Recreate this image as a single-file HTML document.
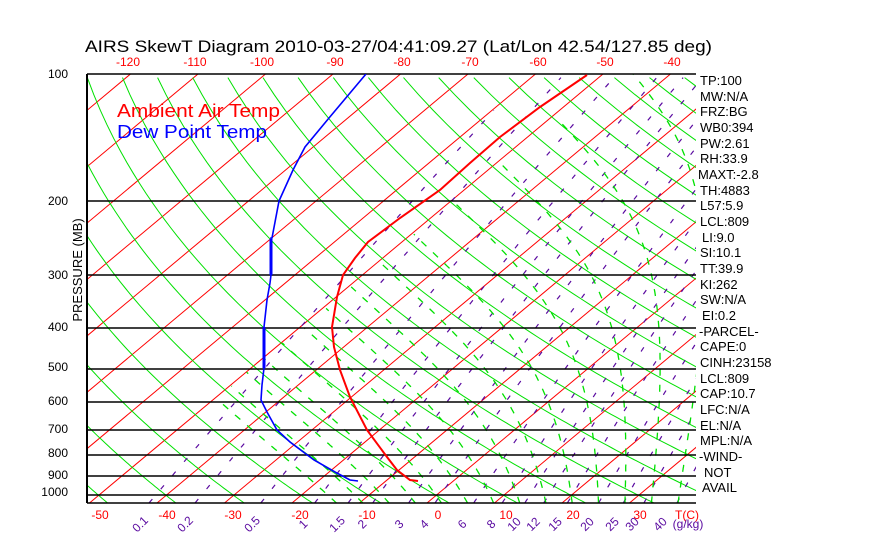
<!DOCTYPE html>
<html><head><meta charset="utf-8"><style>
html,body{margin:0;padding:0;background:#fff;}
svg{display:block;font-family:"Liberation Sans",sans-serif;}
</style></head><body>
<svg id="s" width="870" height="560" viewBox="0 0 870 560" xmlns="http://www.w3.org/2000/svg">
<defs><clipPath id="c"><rect x="87" y="74" width="609" height="429"/></clipPath></defs>
<rect width="870" height="560" fill="#fff"/>
<g id="grid" clip-path="url(#c)"></g>
<g id="hl" stroke="#000" stroke-width="1.5"></g>
<line x1="87" y1="74" x2="87" y2="503" stroke="#000" stroke-width="2"/>
<g id="prof" clip-path="url(#c)">
<polyline fill="none" stroke="#ff0000" stroke-width="2" points="587,75 540,107 500,137 470,163 440,190 400,218 368,242 355,258 343,275 337,297 332,327 334,347 340,370 350,397 367,430 387,457 397,470 410,480 418,481"/>
<polyline fill="none" stroke="#0000ff" stroke-width="1.6" points="366,74 329,118 305,147 293,170 279,201 272,238 271,238 271,275 270,283 267,300 264,327 264,368 262,385 261,400 267,412 277,430 290,442 314,460 335,472 350,480 358,481"/>
<line x1="271" y1="239" x2="271" y2="275" stroke="#0000ff" stroke-width="3"/>
<line x1="264" y1="327" x2="264" y2="368" stroke="#0000ff" stroke-width="3"/>
</g>
<text x="85" y="52" font-size="17" fill="#000" textLength="627" lengthAdjust="spacingAndGlyphs">AIRS SkewT Diagram 2010-03-27/04:41:09.27 (Lat/Lon 42.54/127.85 deg)</text>
<g fill="#ff0000" font-size="12" text-anchor="middle">
<text x="128" y="66">-120</text><text x="195" y="66">-110</text><text x="262" y="66">-100</text><text x="335" y="66">-90</text><text x="402" y="66">-80</text><text x="470" y="66">-70</text><text x="538" y="66">-60</text><text x="605" y="66">-50</text><text x="672" y="66">-40</text>
<text x="100" y="519">-50</text><text x="167" y="519">-40</text><text x="233" y="519">-30</text><text x="300" y="519">-20</text><text x="367" y="519">-10</text><text x="438" y="519">0</text><text x="506" y="519">10</text><text x="573" y="519">20</text><text x="640" y="519">30</text><text x="687" y="519">T(C)</text>
</g>
<text x="117" y="117" font-size="18" fill="#ff0000" textLength="163" lengthAdjust="spacingAndGlyphs">Ambient Air Temp</text>
<text x="117" y="138" font-size="18" fill="#0000ff" textLength="150" lengthAdjust="spacingAndGlyphs">Dew Point Temp</text>
<g font-size="12" fill="#000" text-anchor="end">
<text x="68" y="78">100</text><text x="68" y="205">200</text><text x="68" y="279">300</text><text x="68" y="331">400</text><text x="68" y="371">500</text><text x="68" y="405">600</text><text x="68" y="433">700</text><text x="68" y="457">800</text><text x="68" y="479">900</text><text x="68" y="496">1000</text>
</g>
<text transform="translate(82,270) rotate(-90)" font-size="13" text-anchor="middle" fill="#000">PRESSURE (MB)</text>
<g fill="#5a0aa0" font-size="12" text-anchor="middle">
<text transform="translate(143,527) rotate(-45)">0.1</text>
<text transform="translate(188,527) rotate(-45)">0.2</text>
<text transform="translate(255,527) rotate(-45)">0.5</text>
<text transform="translate(306,527) rotate(-45)">1</text>
<text transform="translate(340,527) rotate(-45)">1.5</text>
<text transform="translate(365,527) rotate(-45)">2</text>
<text transform="translate(402,527) rotate(-45)">3</text>
<text transform="translate(427,527) rotate(-45)">4</text>
<text transform="translate(465,527) rotate(-45)">6</text>
<text transform="translate(494,527) rotate(-45)">8</text>
<text transform="translate(517,527) rotate(-45)">10</text>
<text transform="translate(536,527) rotate(-45)">12</text>
<text transform="translate(558,527) rotate(-45)">15</text>
<text transform="translate(590,527) rotate(-45)">20</text>
<text transform="translate(615,527) rotate(-45)">25</text>
<text transform="translate(635,527) rotate(-45)">30</text>
<text transform="translate(663,527) rotate(-45)">40</text>
<text x="688" y="528">(g/kg)</text>
</g>
<g font-size="13" fill="#000">
<text x="700" y="85">TP:100</text><text x="700" y="101">MW:N/A</text><text x="700" y="116">FRZ:BG</text><text x="700" y="132">WB0:394</text><text x="700" y="148">PW:2.61</text><text x="700" y="163">RH:33.9</text><text x="698" y="179">MAXT:-2.8</text><text x="700" y="195">TH:4883</text><text x="700" y="210">L57:5.9</text><text x="700" y="226">LCL:809</text><text x="702" y="242">LI:9.0</text><text x="700" y="257">SI:10.1</text><text x="700" y="273">TT:39.9</text><text x="700" y="289">KI:262</text><text x="700" y="304">SW:N/A</text><text x="702" y="320">EI:0.2</text><text x="699" y="336">-PARCEL-</text><text x="700" y="351">CAPE:0</text><text x="700" y="367">CINH:23158</text><text x="700" y="383">LCL:809</text><text x="700" y="398">CAP:10.7</text><text x="700" y="414">LFC:N/A</text><text x="700" y="430">EL:N/A</text><text x="700" y="445">MPL:N/A</text><text x="699" y="461">-WIND-</text><text x="704" y="477">NOT</text><text x="702" y="492">AVAIL</text>
</g>
</svg>
<script>
(function(){
var NS="http://www.w3.org/2000/svg";
var g=document.getElementById("grid"),hl=document.getElementById("hl");
function Y(p){return 74+183*Math.log(p/100);}
function X(T,y){return 427+6.75*T+1.197*(503-y);}
function add(par,tag,at){var e=document.createElementNS(NS,tag);for(var k in at)e.setAttribute(k,at[k]);par.appendChild(e);return e;}
function pl(pts,col,w,dash){if(pts.length<2)return;var s=pts.map(function(q){return q[0].toFixed(1)+","+q[1].toFixed(1)}).join(" ");var a={points:s,fill:"none",stroke:col,"stroke-width":w};if(dash)a["stroke-dasharray"]=dash;add(g,"polyline",a);}
var PB=1042;
for(var T=-160;T<=40;T+=10){pl([[X(T,503),503],[X(T,74),74]],"#ff0000",1);}
for(var th=-60;th<=260;th+=10){var pts=[];for(var p=PB;p>=99;p-=10){var Tk=(th+273.15)*Math.pow(p/1000,0.286)-273.15;var y=Y(p);pts.push([X(Tk,y),y]);}pl(pts,"#00e000",1);}
function es(Tc){return 6.112*Math.exp(17.67*Tc/(Tc+243.5));}
[0.1,0.2,0.5,1,1.5,2,3,4,6,8,10,12,15,20,25,30,40].forEach(function(w){var pts=[];for(var p=PB;p>=99;p-=10){var e=w*p/(622+w);var l=Math.log(e/6.112);var Td=243.5*l/(17.67-l);if(Td<-60)break;var y=Y(p);pts.push([X(Td,y),y]);}pl(pts,"#5a0aa0",1.2,"5 13");});
function dTdp(Tk,p){var Rd=287,cp=1005,Lv=2.5e6,eps=0.622;var e=es(Tk-273.15);var rs=eps*e/(p-e);return (1/p)*(Rd*Tk+Lv*rs)/(cp+Lv*Lv*rs*eps/(Rd*Tk*Tk));}
for(var T0=-16;T0<=40;T0+=4){var Tk=T0+273.15,p=1000,up=[];up.push([p,Tk]);while(p>100){var h=-5;Tk+=dTdp(Tk,p)*h;p+=h;if(Tk-273.15<-50)break;up.push([p,Tk]);}
var dn=[],Tk2=T0+273.15,p2=1000;while(p2<PB){Tk2+=dTdp(Tk2,p2)*5;p2+=5;dn.unshift([p2,Tk2]);}
var all=dn.concat(up);pl(all.map(function(q){var y=Y(q[0]);return [X(q[1]-273.15,y),y];}),"#00e000",1.3,"7 9");}
[100,200,300,400,500,600,700,800,900,1000].forEach(function(p){var y=Math.round(Y(p));add(hl,"line",{x1:87,x2:696,y1:y,y2:y});});
add(hl,"line",{x1:87,x2:696,y1:503,y2:503});
})();
</script>
</body></html>
